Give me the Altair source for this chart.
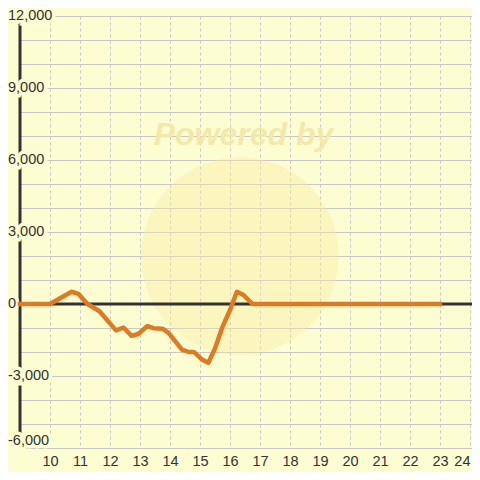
import altair as alt
import pandas as pd

# ---- data ----
hours = [9.0, 10.0, 10.35, 10.72, 10.95, 11.25, 11.65, 12.2, 12.45, 12.72, 12.94,
         13.25, 13.45, 13.75, 13.95, 14.4, 14.62, 14.8, 15.05, 15.28, 15.5, 15.75,
         16.0, 16.23, 16.45, 16.75, 23.0]
values = [0, 0, 250, 510, 420, 0, -300, -1100, -980, -1330, -1250,
          -920, -1010, -1030, -1200, -1900, -2000, -2000, -2300, -2450, -1850, -950,
          -250, 510, 375, 0, 0]

y_tick_values = [12000, 9000, 6000, 3000, 0, -3000, -6000]
y_tick_labels = ["12,000", "9,000", "6,000", "3,000", "0", "-3,000", "-6,000"]
y_grid_values = list(range(-6000, 12001, 1000))
x_tick_values = list(range(10, 25))
x_domain = [9, 24.067]
y_domain = [-6000, 12000]
watermark_text = ["Powered by"]
watermark_pos = [(16.45, 7050)]
circle_pos = [(16.33, 2000)]

BG = "#FDFDD2"
FONT = "Liberation Sans"
GRID = "#C8C8C8"

line_df = pd.DataFrame({"hour": hours, "value": values})
ylab_df = pd.DataFrame({"v": y_tick_values, "label": y_tick_labels})
wm_df = pd.DataFrame({"x": [p[0] for p in watermark_pos], "y": [p[1] for p in watermark_pos],
                      "t": watermark_text})
circ_df = pd.DataFrame({"x": [p[0] for p in circle_pos], "y": [p[1] for p in circle_pos]})

xs = alt.Scale(domain=x_domain, nice=False, zero=False)
ys = alt.Scale(domain=y_domain, nice=False, zero=False)

x_axis = alt.Axis(values=x_tick_values, format="d", title=None,
                  labelAlign={"condition": {"test": "datum.value >= 24", "value": "right"},
                              "value": "center"})
y_axis = alt.Axis(values=y_grid_values, labels=False, title=None)


def X(field):
    return alt.X(field, scale=xs, axis=x_axis)


def Y(field):
    return alt.Y(field, scale=ys, axis=y_axis)


circle = alt.Chart(circ_df).mark_circle(size=39000, color="#F7E99A", opacity=0.38).encode(
    x=X("x:Q"), y=Y("y:Q"))

wm_text = alt.Chart(wm_df).mark_text(font=FONT, fontSize=32, fontStyle="italic",
                                     fontWeight="bold", color="#F3E9AC").encode(
    x=X("x:Q"), y=Y("y:Q"), text="t:N")

y_axis_bar = alt.Chart(pd.DataFrame({"a": [y_domain[0]], "b": [y_domain[1]]})).mark_rule(
    color="#333333", strokeWidth=3).encode(
    x=alt.value(0), y=Y("a:Q"), y2="b:Q")

zero_line = alt.Chart(pd.DataFrame({"a": [x_domain[0]], "b": [x_domain[1]], "z": [0]})).mark_rule(
    color="#333333", strokeWidth=3).encode(
    x=X("a:Q"), x2="b:Q", y=Y("z:Q"))

ylab_base = alt.Chart(ylab_df).transform_calculate(
    ypos="datum.v == -6000 ? -5700 : datum.v").encode(
    x=alt.value(-12), y=Y("ypos:Q"), text="label:N")

ylab_halo = ylab_base.mark_text(align="left", baseline="middle", font=FONT, fontSize=14.5,
                                color=BG, stroke=BG, strokeWidth=7)
ylab_text = ylab_base.mark_text(align="left", baseline="middle", font=FONT, fontSize=14.5,
                                color="#333333")

series = alt.Chart(line_df).mark_line(color="#E07A22", strokeWidth=4.5, strokeCap="square",
                                      strokeJoin="round").encode(
    x=X("hour:Q"), y=Y("value:Q"))

chart = alt.layer(circle, wm_text, y_axis_bar, zero_line, ylab_halo, ylab_text,
                  series).properties(
    width=452, height=432,
    padding={"left": 12, "top": 8, "right": 0, "bottom": 24},
    autosize=alt.AutoSizeParams(type="none"),
    background=BG,
).configure_view(stroke=None).configure_axisX(
    grid=True, gridDash=[3, 3], gridColor=GRID, gridWidth=1, domain=False,
    ticks=False, tickSize=0, labelPadding=6, labelFontSize=14.5, labelColor="#333333",
    labelFont=FONT,
).configure_axisY(
    grid=True, gridColor=GRID, gridWidth=1.2, domain=False, ticks=False, tickSize=0,
)

chart.save("out.html", embed_options={"renderer": "svg", "actions": False})
